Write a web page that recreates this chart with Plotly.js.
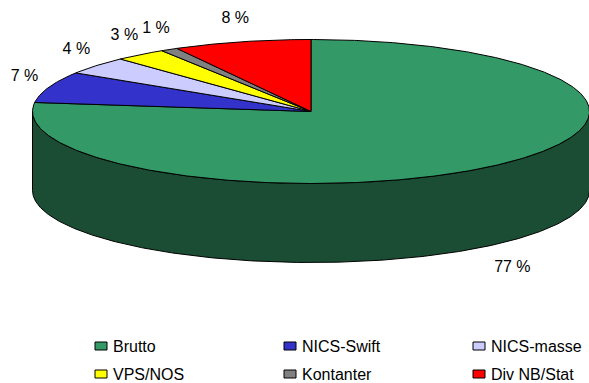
<!DOCTYPE html>
<html>
<head>
<meta charset="utf-8">
<script src="https://cdn.plot.ly/plotly-3.0.1.min.js"></script>
<style>
  html, body { margin: 0; padding: 0; background: #fff; }
  #chart { width: 589px; height: 383px; }
</style>
</head>
<body>
<div id="chart"></div>
<script>
// Slice data
const categories = ['Brutto', 'NICS-Swift', 'NICS-masse', 'VPS/NOS', 'Kontanter', 'Div NB/Stat'];
const shares = [77, 7, 4, 3, 1, 8];
const percentLabels = ['77 %', '7 %', '4 %', '3 %', '1 %', '8 %'];

// Styling
const topColors = ['#339966', '#3333cc', '#ccccff', '#ffff00', '#808080', '#ff0000'];
const sideColors = ['#1a4d33', '#1a1a66', '#666680', '#808000', '#404040', '#800000'];

// Geometry of the tilted disc (pixel units on the hidden axes)
const W = 589, H = 383;
const cx = 311, cy = 111.5, rx = 278.5, ry = 72, depth = 79;

function pt(deg, dz, sx, sy) {
  const r = deg * Math.PI / 180;
  return [cx + sx * Math.sin(r), cy - sy * Math.cos(r) + dz];
}

const total = shares.reduce((a, b) => a + b, 0);
const bounds = [];
let acc = 0;
shares.forEach(v => {
  const a0 = acc / total * 360;
  acc += v;
  bounds.push([a0, acc / total * 360]);
});

const traces = [];
const step = 0.5;

// Outer walls (front half only)
bounds.forEach(([a0, a1], i) => {
  const s = Math.max(a0, 90), e = Math.min(a1, 270);
  if (s >= e) return;
  const xs = [], ys = [];
  for (let a = s; a <= e + 1e-9; a += step) { const p = pt(a, 0, rx, ry); xs.push(p[0]); ys.push(p[1]); }
  for (let a = e; a >= s - 1e-9; a -= step) { const p = pt(a, depth, rx, ry); xs.push(p[0]); ys.push(p[1]); }
  xs.push(xs[0]); ys.push(ys[0]);
  traces.push({
    type: 'scatter', mode: 'lines', x: xs, y: ys, fill: 'toself',
    fillcolor: sideColors[i], line: { color: '#000', width: 1 },
    hoverinfo: 'skip', showlegend: false
  });
});

// Top faces
bounds.forEach(([a0, a1], i) => {
  const xs = [cx], ys = [cy];
  const n = Math.max(2, Math.ceil((a1 - a0) / step));
  for (let k = 0; k <= n; k++) {
    const p = pt(a0 + (a1 - a0) * k / n, 0, rx, ry);
    xs.push(p[0]); ys.push(p[1]);
  }
  xs.push(cx); ys.push(cy);
  traces.push({
    type: 'scatter', mode: 'lines', x: xs, y: ys, fill: 'toself',
    fillcolor: topColors[i], line: { color: '#000', width: 1 },
    hoverinfo: 'skip', showlegend: false, name: categories[i]
  });
});

// Percentage labels outside each slice
const lx = [], ly = [];
bounds.forEach(([a0, a1]) => {
  const mid = (a0 + a1) / 2;
  const front = Math.cos(mid * Math.PI / 180) < 0;
  const p = pt(mid, front ? depth + 8 : -3, rx + 26, ry + 20);
  lx.push(p[0]); ly.push(p[1]);
});
traces.push({
  type: 'scatter', mode: 'text', x: lx, y: ly, text: percentLabels,
  textposition: 'middle center',
  textfont: { family: 'Liberation Sans, Arial, sans-serif', size: 16, color: '#000' },
  hoverinfo: 'skip', showlegend: false
});

// Legend: swatches and names in a 3-column grid
const shapes = [], annotations = [];
categories.forEach((name, i) => {
  const col = i % 3, row = Math.floor(i / 3);
  const x0 = 95 + col * 189, yc = 346 + row * 28;
  shapes.push({
    type: 'rect', xref: 'x', yref: 'y',
    x0: x0, x1: x0 + 12, y0: yc - 4, y1: yc + 4,
    fillcolor: topColors[i], line: { color: '#000', width: 1 }
  });
  annotations.push({
    xref: 'x', yref: 'y', x: x0 + 16, y: yc, text: name,
    xanchor: 'left', yanchor: 'middle', showarrow: false,
    font: { family: 'Liberation Sans, Arial, sans-serif', size: 16, color: '#000' }
  });
});

const layout = {
  width: W, height: H,
  margin: { l: 0, r: 0, t: 0, b: 0 },
  paper_bgcolor: '#fff', plot_bgcolor: '#fff',
  xaxis: { range: [0, W], visible: false, fixedrange: true },
  yaxis: { range: [H, 0], visible: false, fixedrange: true },
  showlegend: false,
  shapes: shapes,
  annotations: annotations
};

Plotly.newPlot('chart', traces, layout, { staticPlot: true, displayModeBar: false });
</script>
</body>
</html>
